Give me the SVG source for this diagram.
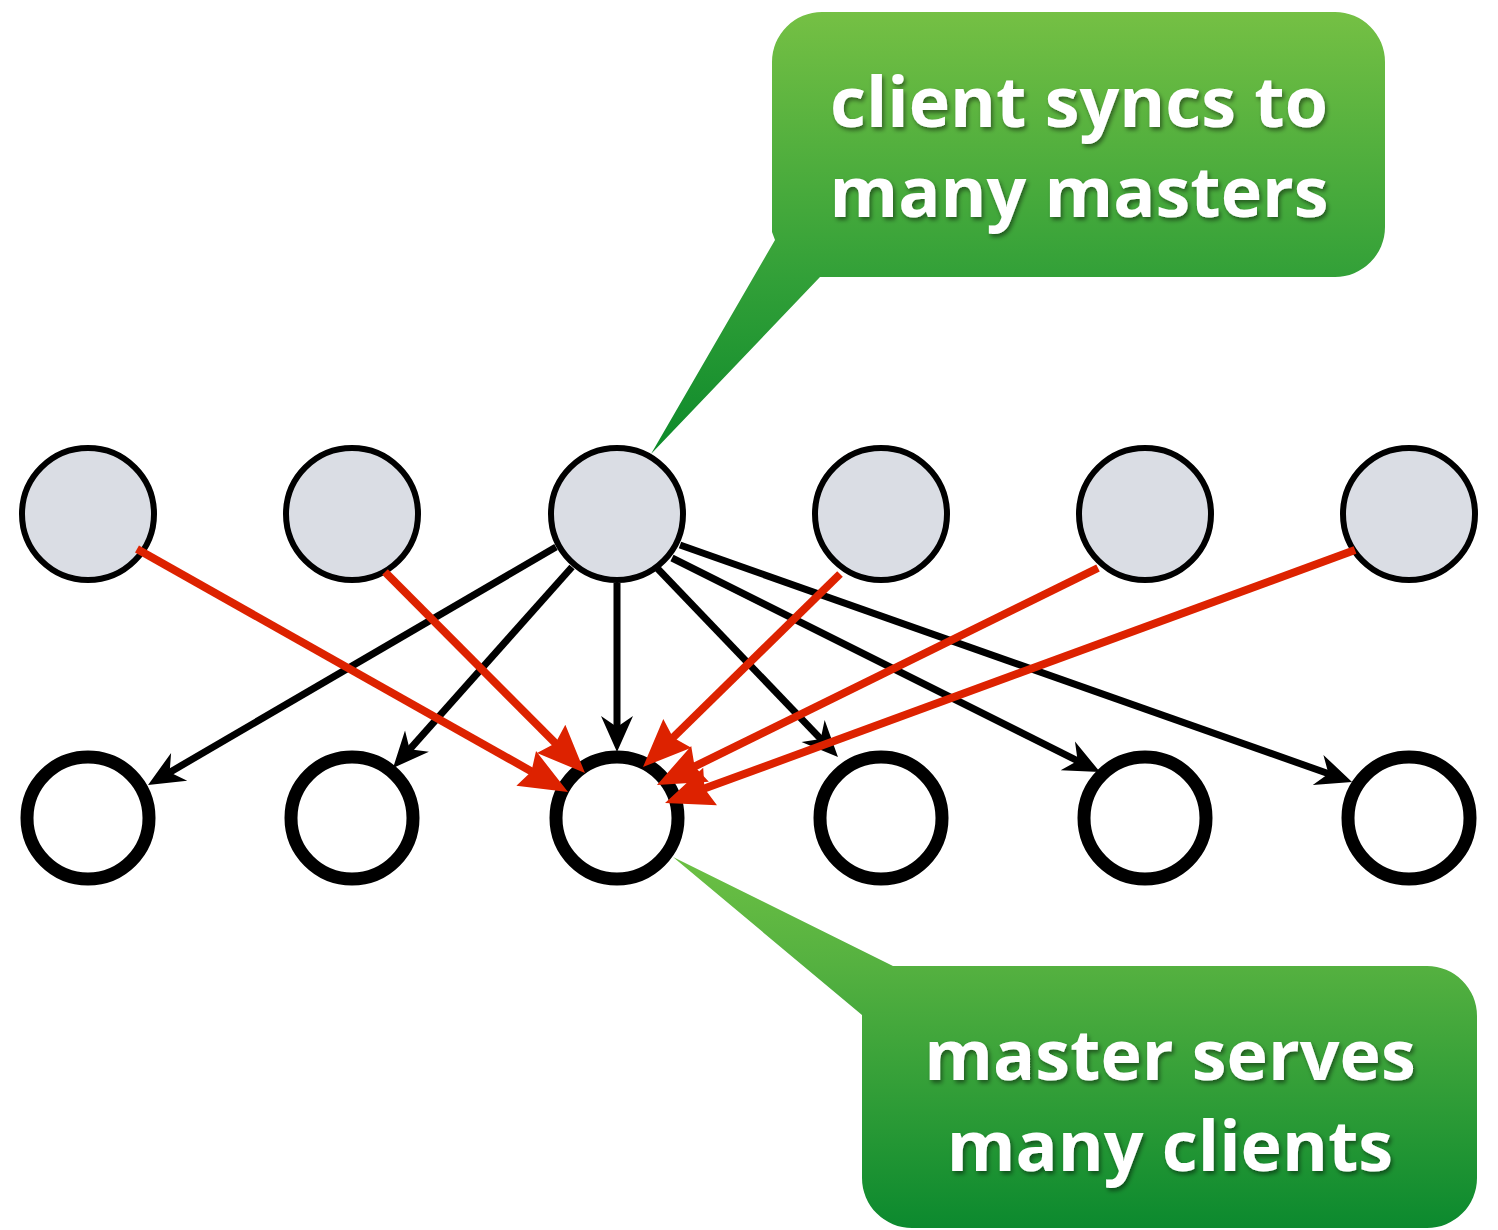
<svg xmlns="http://www.w3.org/2000/svg" width="1498" height="1230" viewBox="0 0 1498 1230">
  <defs>
    <style>
      .master { fill: #dadde4; stroke: #000; stroke-width: 6; }
      .client { fill: #fff; stroke: #000; stroke-width: 13; }
      .serve { stroke: #000; stroke-width: 7; fill: none; marker-end: url(#headBlack); }
      .sync { stroke: #dd2200; stroke-width: 8; fill: none; marker-end: url(#headRed); }
      .label { font-family: "Open Sans", "Noto Sans", sans-serif; font-weight: 700; font-size: 70px; fill: #fff; text-anchor: middle; filter: url(#textShadow); }
    </style>
    <marker id="headBlack" markerUnits="userSpaceOnUse" markerWidth="38" markerHeight="34" refX="21" refY="16" orient="auto" overflow="visible">
      <path d="M36,16 L0,0 L11,16 L0,32 Z" fill="#000"/>
    </marker>
    <marker id="headRed" markerUnits="userSpaceOnUse" markerWidth="50" markerHeight="42" refX="28" refY="20" orient="auto" overflow="visible">
      <path d="M48,20 L0,0 L6,20 L0,40 Z" fill="#dd2200"/>
    </marker>
    <linearGradient id="gradTop" gradientUnits="userSpaceOnUse" x1="0" y1="12" x2="0" y2="455">
      <stop offset="0" stop-color="#75c044"/>
      <stop offset="0.6" stop-color="#32a038"/>
      <stop offset="1" stop-color="#0d8a2b"/>
    </linearGradient>
    <linearGradient id="gradBottom" gradientUnits="userSpaceOnUse" x1="0" y1="857" x2="0" y2="1230">
      <stop offset="0" stop-color="#6cc044"/>
      <stop offset="0.29" stop-color="#55b140"/>
      <stop offset="1" stop-color="#0b892e"/>
    </linearGradient>
    <filter id="textShadow" x="-10%" y="-20%" width="120%" height="150%">
      <feDropShadow dx="2" dy="3" stdDeviation="2" flood-color="#000" flood-opacity="0.45"/>
    </filter>
  </defs>

  <rect width="1498" height="1230" fill="#fff"/>

  <!-- callouts -->
  <g id="callout-client">
    <path d="M822,12 H1335 A50,50 0 0 1 1385,62 V227 A50,50 0 0 1 1335,277 H820 L651,454 L775,240 L772,232 V62 A50,50 0 0 1 822,12 Z" fill="url(#gradTop)"/>
    <text class="label" x="1079" y="127">client syncs to</text>
    <text class="label" x="1079" y="217">many masters</text>
  </g>
  <g id="callout-master">
    <path d="M893,966 H1427 A50,50 0 0 1 1477,1016 V1178 A50,50 0 0 1 1427,1228 H912 A50,50 0 0 1 862,1178 V1015 L673,857 Z" fill="url(#gradBottom)"/>
    <text class="label" x="1170" y="1080">master serves</text>
    <text class="label" x="1170" y="1171">many clients</text>
  </g>

  <!-- masters (top row) -->
  <g id="master-1"><circle class="master" cx="88" cy="514" r="66"/></g>
  <g id="master-2"><circle class="master" cx="352" cy="514" r="66"/></g>
  <g id="master-3"><circle class="master" cx="617" cy="514" r="66"/></g>
  <g id="master-4"><circle class="master" cx="881" cy="514" r="66"/></g>
  <g id="master-5"><circle class="master" cx="1145" cy="514" r="66"/></g>
  <g id="master-6"><circle class="master" cx="1409" cy="514" r="66"/></g>

  <!-- clients (bottom row) -->
  <g id="client-1"><circle class="client" cx="88" cy="818" r="61"/></g>
  <g id="client-2"><circle class="client" cx="352" cy="818" r="61"/></g>
  <g id="client-3"><circle class="client" cx="617" cy="818" r="61"/></g>
  <g id="client-4"><circle class="client" cx="881" cy="818" r="61"/></g>
  <g id="client-5"><circle class="client" cx="1145" cy="818" r="61"/></g>
  <g id="client-6"><circle class="client" cx="1409" cy="818" r="61"/></g>

  <!-- connectors: line ends stop 15px (black) / 20px (red) short of the tip; the marker supplies the point -->
  <g id="connectors">
    <!-- one master serving every client -->
    <line class="serve" x1="556" y1="547" x2="161" y2="777.4"/>
    <line class="serve" x1="572" y1="567" x2="403" y2="756.8"/>
    <line class="serve" x1="617" y1="583" x2="617" y2="737"/>
    <line class="serve" x1="657" y1="568" x2="827.6" y2="746.2"/>
    <line class="serve" x1="672" y1="558" x2="1086.6" y2="765.3"/>
    <line class="serve" x1="680" y1="545" x2="1337.9" y2="777"/>
    <!-- one client syncing from the other masters -->
    <line class="sync" x1="137" y1="549" x2="550.6" y2="782.2"/>
    <line class="sync" x1="385" y1="572" x2="570.9" y2="758.8"/>
    <line class="sync" x1="840" y1="574" x2="657.3" y2="753"/>
    <line class="sync" x1="1098" y1="568" x2="674.9" y2="776.2"/>
    <line class="sync" x1="1355" y1="550" x2="683.8" y2="796.1"/>
  </g>
</svg>
